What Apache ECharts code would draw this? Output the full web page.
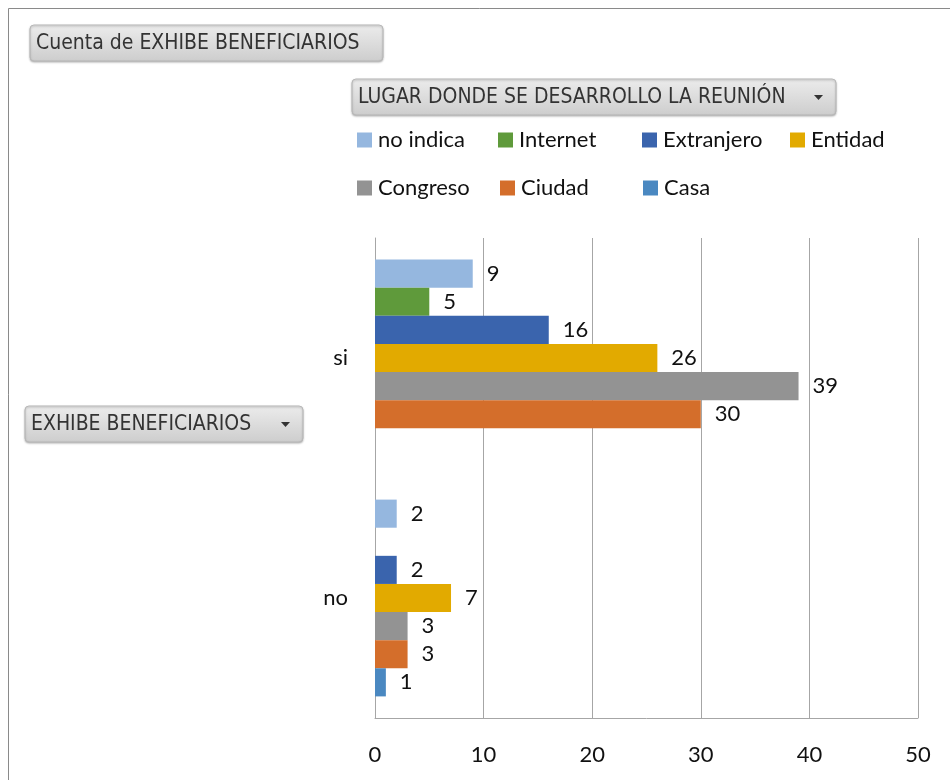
<!DOCTYPE html>
<html>
<head>
<meta charset="utf-8">
<script src="https://cdn.jsdelivr.net/npm/echarts@6/dist/echarts.min.js"></script>
<style>
  html, body { margin: 0; padding: 0; background: #fff; }
  #main { width: 950px; height: 780px; }
</style>
</head>
<body>
<div id="main"></div>
<script>
// categorias y series (lugar de la reunion)
var categories = ['si', 'no'];
var seriesNames = ['no indica', 'Internet', 'Extranjero', 'Entidad', 'Congreso', 'Ciudad', 'Casa'];
var noIndica   = [9, 2];
var internet   = [5, null];
var extranjero = [16, 2];
var entidad    = [26, 7];
var congreso   = [39, 3];
var ciudad     = [30, 3];
var casa       = [null, 1];
var xTicks = [0, 10, 20, 30, 40, 50];

var colors = ['#95b7df', '#5f9a3b', '#3a64ad', '#e2aa00', '#939393', '#d46e2b', '#4a88c1'];
var allData = [noIndica, internet, extranjero, entidad, congreso, ciudad, casa];

var font = 'Lato, "Noto Sans", sans-serif';
var btnFont = '"Liberation Sans Narrow", "DejaVu Sans Condensed", sans-serif';

// posiciones de la leyenda (dos filas, como en Excel)
var legendPos = [[357, 129], [498, 129], [642, 129], [790, 129], [357, 177], [500, 177], [643, 177]];

var series = [];
var legends = [];
for (var i = 0; i < seriesNames.length; i++) {
  series.push({
    name: seriesNames[i],
    type: 'bar',
    data: allData[i],
    barGap: '0%',
    barCategoryGap: '18%',
    itemStyle: { color: colors[i] },
    label: {
      show: true,
      position: 'right',
      distance: 14,
      fontSize: 22,
      fontFamily: font,
      color: '#111'
    }
  });
  legends.push({
    data: [seriesNames[i]],
    left: legendPos[i][0],
    top: legendPos[i][1],
    itemWidth: 15,
    itemHeight: 15,
    itemGap: 0,
    padding: 0,
    icon: 'rect',
    textStyle: { fontSize: 22, fontFamily: font, color: '#111', padding: [0, 0, 0, 1] }
  });
}

function button(x, y, w, h, text, arrow) {
  var els = [{
    type: 'rect',
    shape: { x: x, y: y, width: w, height: h, r: 4 },
    style: {
      fill: new echarts.graphic.LinearGradient(0, 0, 0, 1, [
        { offset: 0, color: '#ececec' },
        { offset: 1, color: '#cdcdcd' }
      ]),
      stroke: '#b8b8b8',
      lineWidth: 1,
      shadowBlur: 2,
      shadowColor: 'rgba(0,0,0,0.25)',
      shadowOffsetY: 1
    }
  }, {
    type: 'text',
    x: x + 6,
    y: y + h / 2 + 1,
    style: { text: text, fontSize: 21, fontFamily: btnFont, fill: '#333', textVerticalAlign: 'middle' }
  }];
  if (arrow) {
    els.push({
      type: 'polygon',
      shape: { points: [[x + w - 22, y + h / 2 - 2], [x + w - 13, y + h / 2 - 2], [x + w - 17.5, y + h / 2 + 3]] },
      style: { fill: '#333' }
    });
  }
  return els;
}

var graphics = [
  { type: 'line', shape: { x1: 8.5, y1: 8.5, x2: 950, y2: 8.5 }, style: { stroke: '#8a8a8a', lineWidth: 1 } },
  { type: 'line', shape: { x1: 8.5, y1: 8.5, x2: 8.5, y2: 780 }, style: { stroke: '#8a8a8a', lineWidth: 1 } }
];
graphics = graphics
  .concat(button(30, 25, 353, 36, 'Cuenta de EXHIBE BENEFICIARIOS', false))
  .concat(button(352, 79, 484, 36, 'LUGAR DONDE SE DESARROLLO LA REUNIÓN', true))
  .concat(button(25, 406, 278, 36, 'EXHIBE BENEFICIARIOS', true));

var chart = echarts.init(document.getElementById('main'));
chart.setOption({
  animation: false,
  backgroundColor: '#fff',
  legend: legends,
  grid: { left: 375, right: 32, top: 238, bottom: 62 },
  xAxis: {
    type: 'value',
    min: xTicks[0],
    max: xTicks[xTicks.length - 1],
    interval: 10,
    axisLine: { show: true, lineStyle: { color: '#a6a6a6' } },
    axisTick: { show: false },
    splitLine: { lineStyle: { color: '#a6a6a6' } },
    axisLabel: { fontSize: 22, fontFamily: font, color: '#111', margin: 26 }
  },
  yAxis: {
    type: 'category',
    data: categories,
    inverse: true,
    axisLine: { show: true, lineStyle: { color: '#a6a6a6' } },
    axisTick: { show: false },
    axisLabel: { fontSize: 22, fontFamily: font, color: '#111', margin: 27 }
  },
  series: series,
  graphic: graphics
});
</script>
</body>
</html>
